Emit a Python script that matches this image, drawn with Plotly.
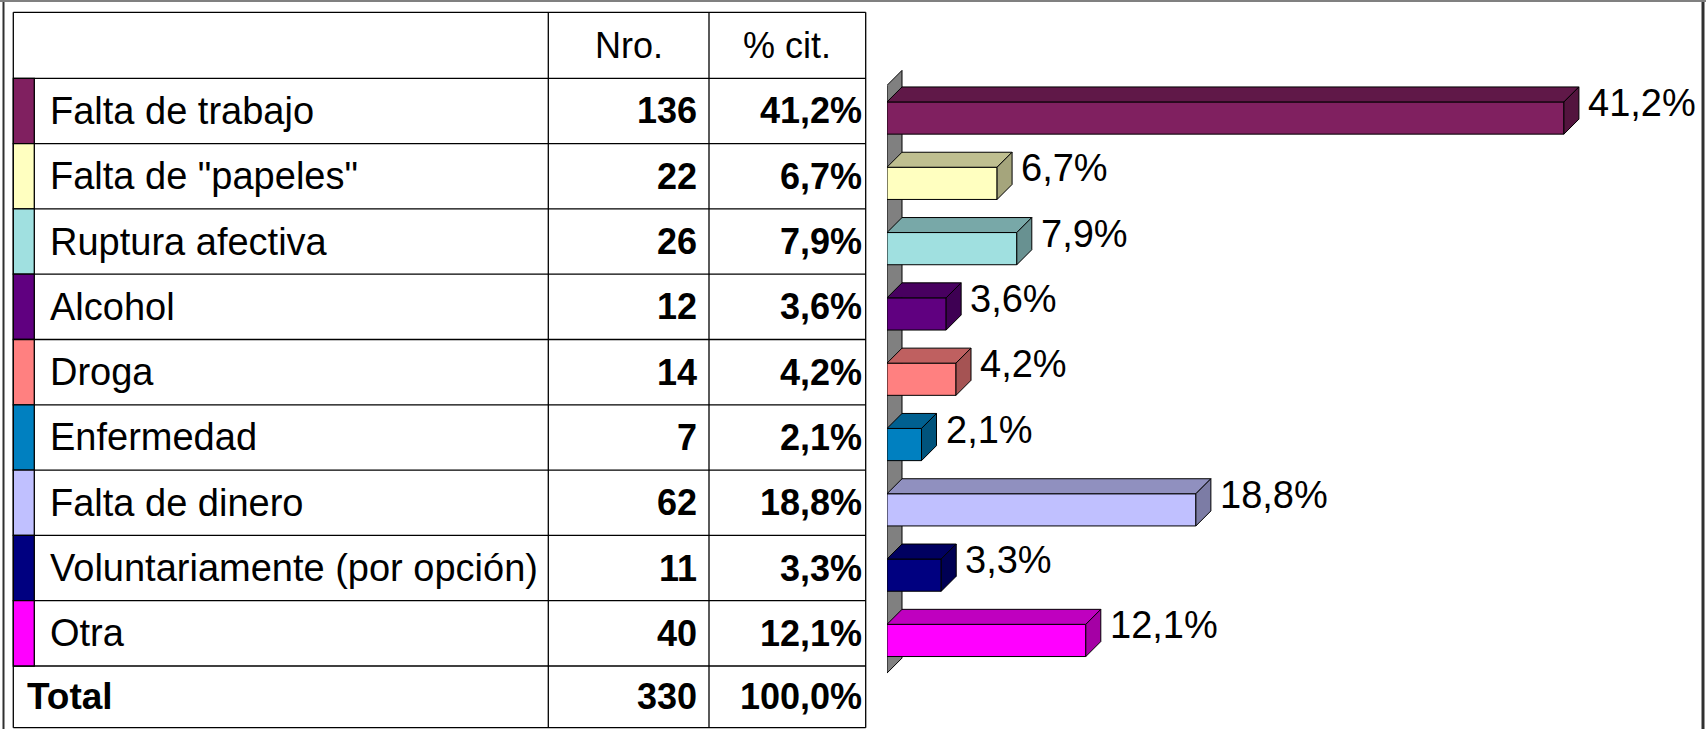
import plotly.graph_objects as go

# ---------------- data ----------------
categories = ["Falta de trabajo", 'Falta de "papeles"', "Ruptura afectiva", "Alcohol",
              "Droga", "Enfermedad", "Falta de dinero", "Voluntariamente (por opción)", "Otra"]
counts = [136, 22, 26, 12, 14, 7, 62, 11, 40]
percents = [41.2, 6.7, 7.9, 3.6, 4.2, 2.1, 18.8, 3.3, 12.1]
colors = ["#802060", "#FFFFC0", "#A0E0E0", "#600080", "#FF8080",
          "#0080C0", "#C0C0FF", "#000080", "#FF00FF"]
header_labels = ["Nro.", "% cit."]
total_label = "Total"
total_count = 330
total_percent = 100.0

# ---------------- layout geometry (pixels) ----------------
W, H = 1706, 729
ROW_H = 65.3          # row height in px
ROW0 = 110.95         # pixel centre of first data row
FONT = "Liberation Sans, Arial, sans-serif"
FONT_NARROW = "Liberation Sans Narrow, Arial Narrow, Liberation Sans, Arial, sans-serif"
FS_LABEL = 38
FS_NUM = 36
FS_HEAD = 36

TBL_L, SW_R, COL1, COL2, TBL_R = 13.3, 34.3, 548.3, 709.0, 865.7
BAR_X0 = 887.0
PX_PER_UNIT = 16.43
DEPTH_PX = 15.0

dx = DEPTH_PX / PX_PER_UNIT
dy = DEPTH_PX / ROW_H
bar_w = 32.2 / ROW_H
bar_off = -0.138


def fmt_pct(p):
    return f"{p:.1f}".replace(".", ",") + "%"


def shade(hexcol, f):
    h = hexcol.lstrip("#")
    r, g, b = (int(h[i:i + 2], 16) for i in (0, 2, 4))
    return f"rgb({int(r * f)},{int(g * f)},{int(b * f)})"


def ypix(p):
    return (p - ROW0) / ROW_H


fig = go.Figure()
n = len(categories)
ypos = list(range(n))

# front faces of the bars
fig.add_trace(go.Bar(
    x=percents, y=ypos, orientation="h", xaxis="x2", yaxis="y",
    width=bar_w, offset=bar_off,
    marker=dict(color=colors, line=dict(color="black", width=1)),
    hoverinfo="skip", showlegend=False,
))

# 3D top and side faces + value labels
for i, (v, c) in enumerate(zip(percents, colors)):
    yt = i + bar_off
    yb = yt + bar_w
    fig.add_trace(go.Scatter(
        x=[0, v, v + dx, dx, 0], y=[yt, yt, yt - dy, yt - dy, yt],
        xaxis="x2", yaxis="y", mode="lines", fill="toself",
        fillcolor=shade(c, 0.75), line=dict(color="black", width=1),
        hoverinfo="skip", showlegend=False))
    fig.add_trace(go.Scatter(
        x=[v, v + dx, v + dx, v, v], y=[yt, yt - dy, yb - dy, yb, yt],
        xaxis="x2", yaxis="y", mode="lines", fill="toself",
        fillcolor=shade(c, 0.65), line=dict(color="black", width=1),
        hoverinfo="skip", showlegend=False))
    fig.add_annotation(x=v + dx, y=yt - dy + bar_w / 2, xref="x2", yref="y",
                       text=fmt_pct(v), showarrow=False, xanchor="left",
                       yanchor="middle", xshift=7,
                       font=dict(family=FONT, size=FS_LABEL, color="black"))

shapes = []
# side wall behind bars
w_top = -0.5 + (bar_off + bar_w / 2)
w_bot = n - 0.5 + (bar_off + bar_w / 2)
shapes.append(dict(type="path", xref="x2", yref="y", layer="below",
                   path=f"M 0 {w_top} L {dx} {w_top - dy} L {dx} {w_bot - dy} L 0 {w_bot} Z",
                   fillcolor="#808080", line=dict(color="black", width=1)))

# ---------------- table ----------------
y_tbl_top = ypix(12.3)
y_tbl_bot = ypix(727.7)
line_style = dict(color="black", width=1.3)

hlines = [y_tbl_top, -0.5] + [i + 0.5 for i in range(n)] + [y_tbl_bot]
for yy in hlines:
    shapes.append(dict(type="line", xref="x", yref="y", x0=TBL_L, x1=TBL_R,
                       y0=yy, y1=yy, line=line_style))
for xx in (TBL_L, COL1, COL2, TBL_R):
    shapes.append(dict(type="line", xref="x", yref="y", x0=xx, x1=xx,
                       y0=y_tbl_top, y1=y_tbl_bot, line=line_style))
for i, c in enumerate(colors):
    shapes.append(dict(type="rect", xref="x", yref="y", x0=TBL_L, x1=SW_R,
                       y0=i - 0.5, y1=i + 0.5, fillcolor=c, line=line_style))

# outer frame
shapes.append(dict(type="line", xref="x", yref="paper", x0=3.5, x1=3.5, y0=0, y1=1,
                   line=dict(color="#303030", width=2)))
shapes.append(dict(type="line", xref="x", yref="paper", x0=1703, x1=1703, y0=0, y1=1,
                   line=dict(color="#303030", width=3)))
shapes.append(dict(type="line", xref="x", yref="y", x0=0, x1=W, y0=ypix(1), y1=ypix(1),
                   line=dict(color="#808080", width=2)))

# header
for xc, txt in (((COL1 + COL2) / 2, header_labels[0]), ((COL2 + TBL_R) / 2, header_labels[1])):
    fig.add_annotation(x=xc, y=-1, xref="x", yref="y", text=txt,
                       showarrow=False, xanchor="center", yanchor="middle",
                       font=dict(family=FONT, size=FS_HEAD, color="black"))

NRO_X = COL2 - 10
PCT_X = TBL_R - 2

# rows
for i, (cat, cnt, p) in enumerate(zip(categories, counts, percents)):
    fig.add_annotation(x=47.5, y=i, xref="x", yref="y", text=cat, showarrow=False,
                       xanchor="left", yanchor="middle",
                       font=dict(family=FONT, size=FS_LABEL, color="black"))
    fig.add_annotation(x=NRO_X, y=i, xref="x", yref="y", text=f"<b>{cnt}</b>",
                       showarrow=False, xanchor="right", yanchor="middle",
                       font=dict(family=FONT_NARROW, size=FS_NUM, color="black"))
    fig.add_annotation(x=PCT_X, y=i, xref="x", yref="y", text=f"<b>{fmt_pct(p)}</b>",
                       showarrow=False, xanchor="right", yanchor="middle",
                       font=dict(family=FONT, size=FS_NUM, color="black"))

# total row
y_total = (n - 0.5 + y_tbl_bot) / 2
fig.add_annotation(x=25, y=y_total, xref="x", yref="y", text=f"<b>{total_label}</b>",
                   showarrow=False, xanchor="left", yanchor="middle",
                   font=dict(family=FONT, size=FS_LABEL - 1, color="black"))
fig.add_annotation(x=NRO_X, y=y_total, xref="x", yref="y", text=f"<b>{total_count}</b>",
                   showarrow=False, xanchor="right", yanchor="middle",
                   font=dict(family=FONT_NARROW, size=FS_NUM, color="black"))
fig.add_annotation(x=PCT_X, y=y_total, xref="x", yref="y",
                   text=f"<b>{fmt_pct(total_percent)}</b>",
                   showarrow=False, xanchor="right", yanchor="middle",
                   font=dict(family=FONT, size=FS_NUM, color="black"))

hidden = dict(visible=False, showgrid=False, zeroline=False, fixedrange=True)
fig.update_layout(
    width=W, height=H,
    margin=dict(l=0, r=0, t=0, b=0, pad=0),
    paper_bgcolor="white", plot_bgcolor="rgba(0,0,0,0)",
    showlegend=False,
    bargap=0,
    xaxis=dict(range=[0, W], domain=[0, 1], anchor="y", **hidden),
    xaxis2=dict(range=[0, (W - BAR_X0) / PX_PER_UNIT], domain=[BAR_X0 / W, 1], anchor="y", **hidden),
    yaxis=dict(range=[(H - ROW0) / ROW_H, -ROW0 / ROW_H], domain=[0, 1], anchor="x", **hidden),
    shapes=shapes,
    hovermode=False,
)

fig.write_html("out.html",
               config={"displayModeBar": False, "staticPlot": True},
               post_script="document.body.style.margin='0';document.body.style.overflow='hidden';")
